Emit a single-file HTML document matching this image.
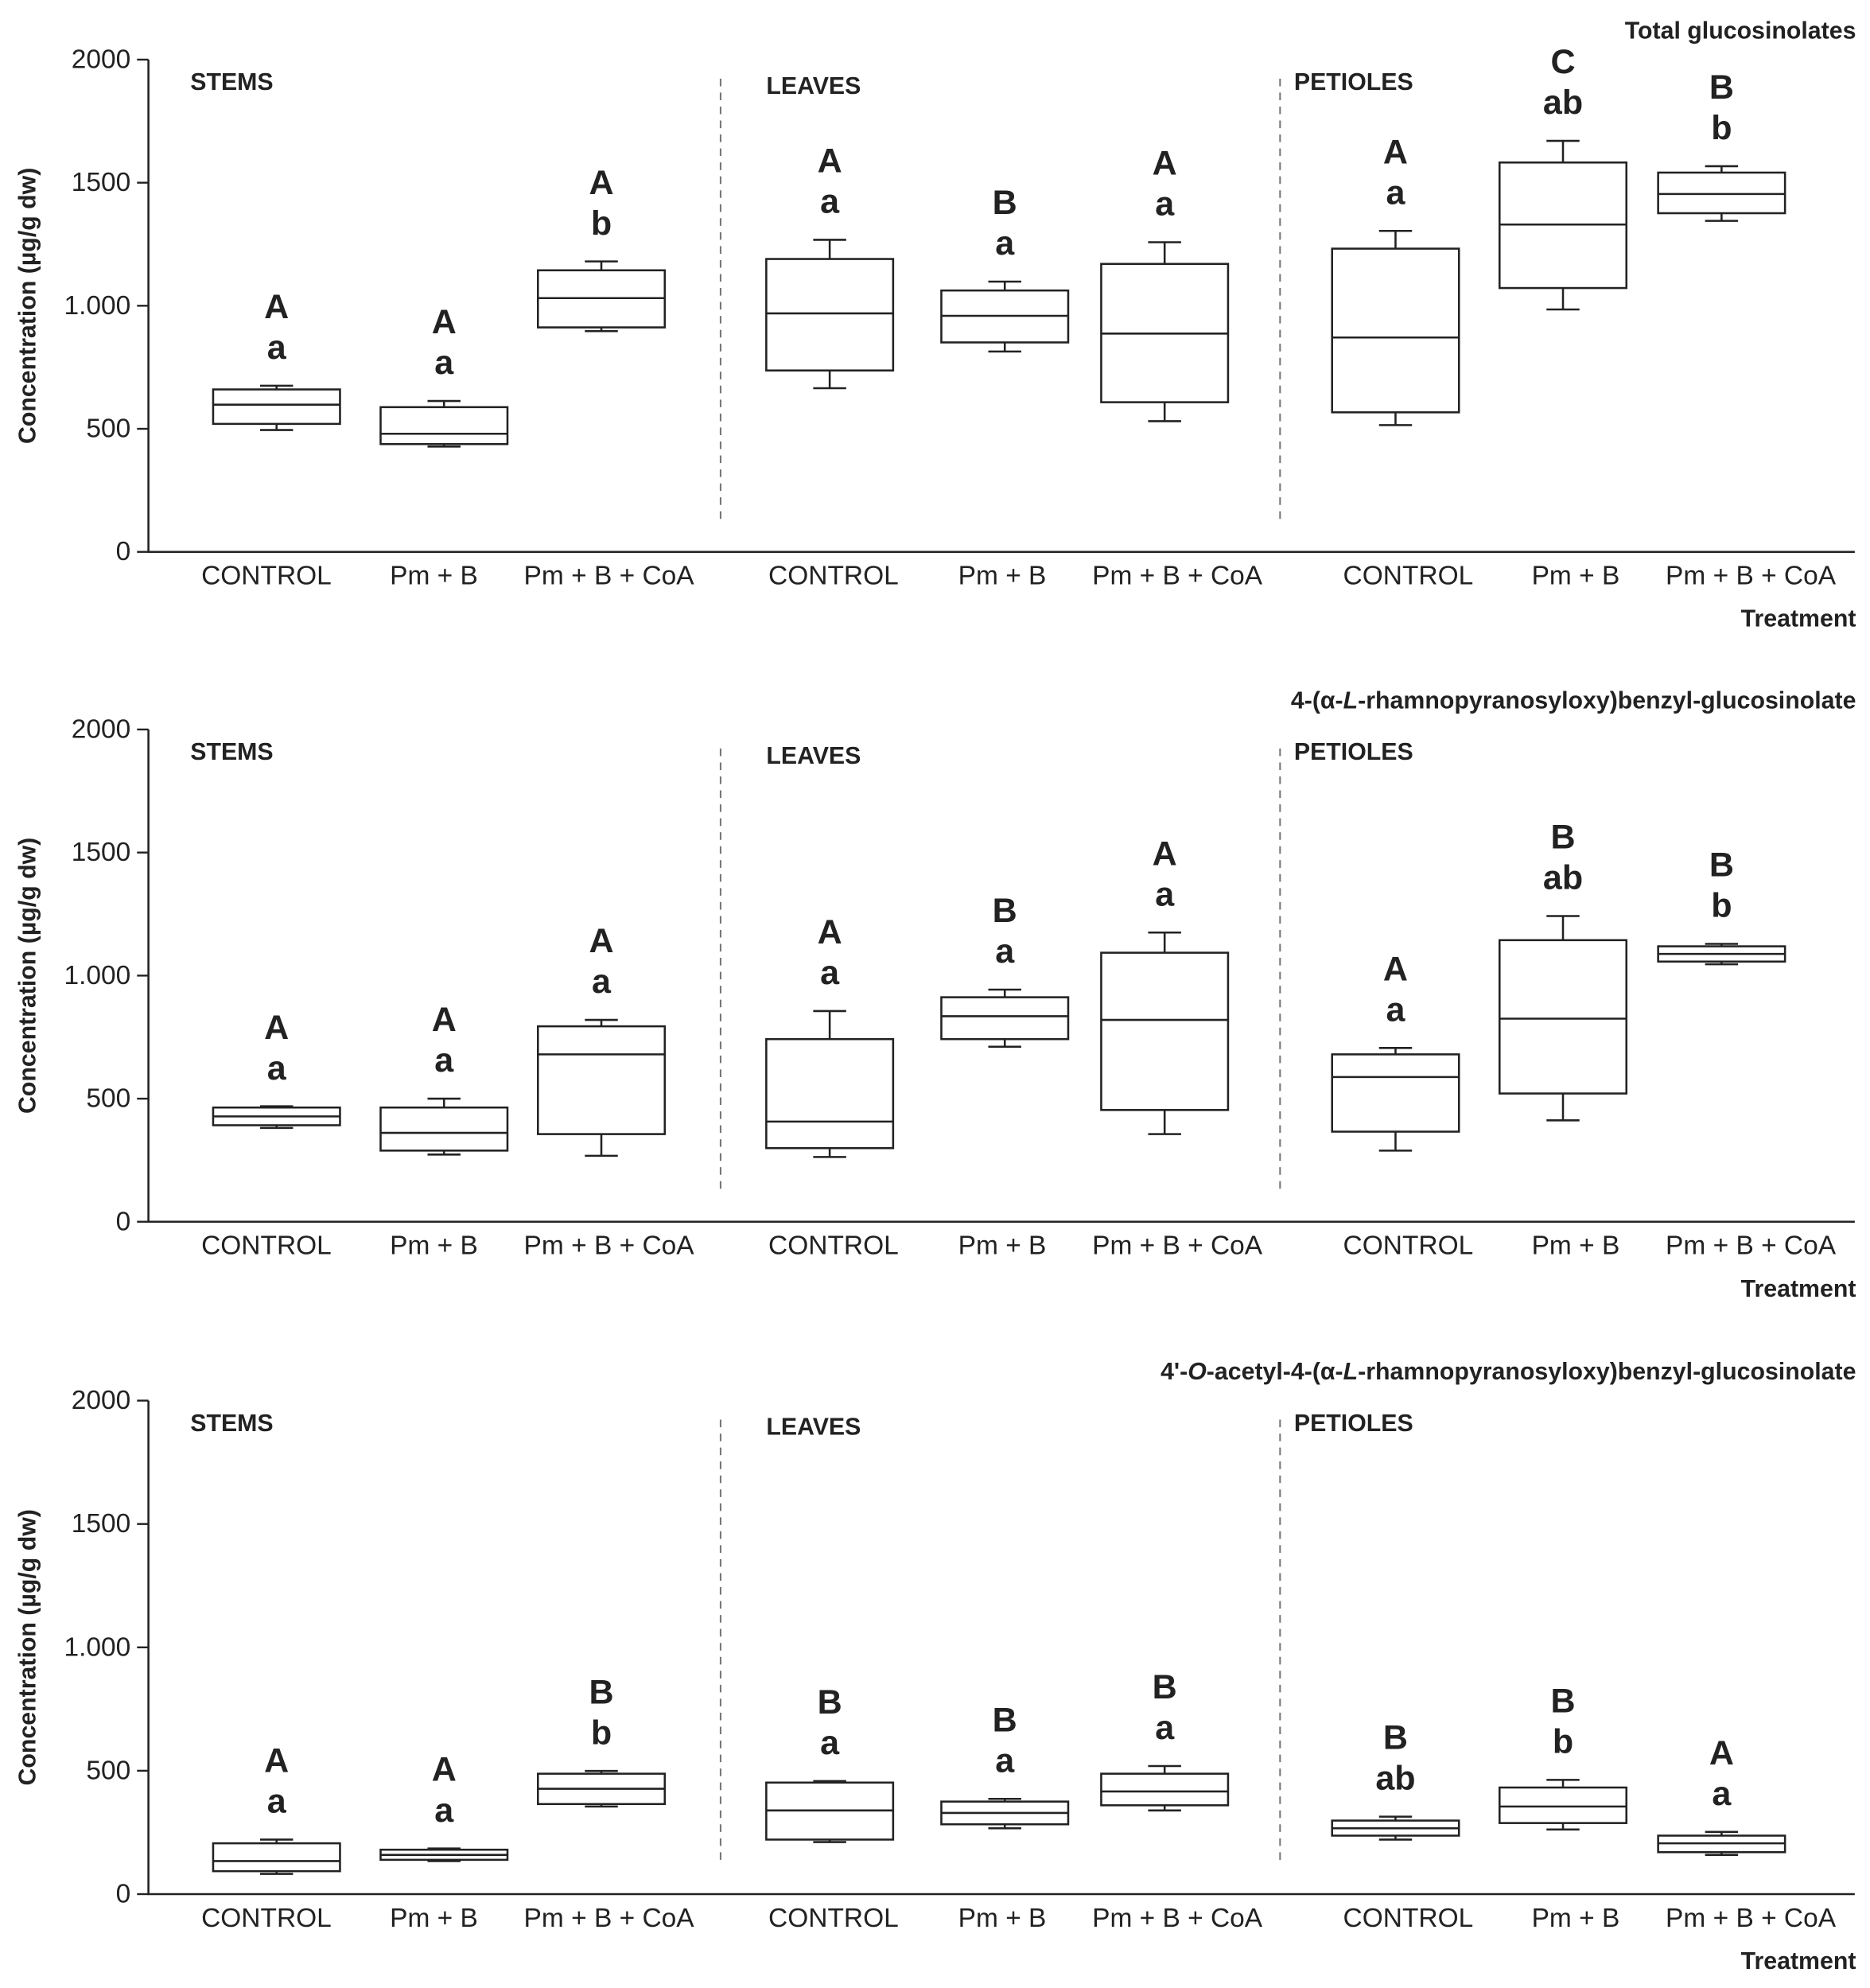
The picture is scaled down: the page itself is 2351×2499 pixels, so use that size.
<!DOCTYPE html>
<html><head><meta charset="utf-8"><style>
html,body{margin:0;padding:0;background:#fff;}
svg{display:block;}
text{font-family:"Liberation Sans",sans-serif;fill:#222;}
</style></head>
<body>
<svg id="chart" width="2351" height="2499" viewBox="0 0 1474 1567" preserveAspectRatio="none" xmlns="http://www.w3.org/2000/svg"></svg>
<script>
// ---- data ----
const categories = ["CONTROL", "Pm + B", "Pm + B + CoA"];
const sections = ["STEMS", "LEAVES", "PETIOLES"];
const yTicks = [0, 500, 1000, 1500, 2000];
const yTickLabels = ["0", "500", "1.000", "1500", "2000"];
// title parts: [text, italic?]
const panelTitles = [
  [["Total glucosinolates", false]],
  [["4-(α-", false], ["L", true], ["-rhamnopyranosyloxy)benzyl-glucosinolate", false]],
  [["4'-", false], ["O", true], ["-acetyl-4-(α-", false], ["L", true], ["-rhamnopyranosyloxy)benzyl-glucosinolate", false]]
];
// each row: [min, q1, median, q3, max]; order stems(ctrl,pmB,coa), leaves(...), petioles(...)
const panel1Stats = [[495,520,598,660,675],[428,438,480,588,613],[897,912,1031,1144,1180],
  [665,737,969,1190,1268],[814,851,959,1062,1098],[531,608,887,1170,1258],
  [515,567,871,1232,1304],[985,1072,1330,1582,1670],[1345,1376,1454,1541,1567]];
const panel2Stats = [[381,392,428,464,469],[273,289,361,464,500],[268,356,680,794,820],
  [263,299,407,742,856],[711,742,835,912,943],[356,454,820,1093,1175],
  [289,366,588,680,706],[412,521,825,1144,1242],[1046,1057,1088,1119,1129]];
const panel3Stats = [[82,93,134,206,221],[134,139,159,180,185],[355,365,427,488,499],
  [211,221,339,452,458],[267,283,329,375,386],[339,360,416,488,519],
  [221,237,267,298,314],[262,288,355,432,463],[159,170,206,237,252]];
const panel1Upper = ["A","A","A","A","B","A","A","C","B"];
const panel1Lower = ["a","a","b","a","a","a","a","ab","b"];
const panel2Upper = ["A","A","A","A","B","A","A","B","B"];
const panel2Lower = ["a","a","a","a","a","a","a","ab","b"];
const panel3Upper = ["A","A","B","B","B","B","B","B","A"];
const panel3Lower = ["a","a","b","a","a","a","ab","b","a"];

// ---- layout ----
const NS = "http://www.w3.org/2000/svg";
const svg = document.getElementById("chart");
const panels = [
  {stats: panel1Stats, up: panel1Upper, lo: panel1Lower, y0: 435, yTop: 47, title: 24, secY: [65,68,65]},
  {stats: panel2Stats, up: panel2Upper, lo: panel2Lower, y0: 963, yTop: 575, title: 552, secY: [593,596,593]},
  {stats: panel3Stats, up: panel3Upper, lo: panel3Lower, y0: 1493, yTop: 1104, title: 1081, secY: [1122,1125,1122]}
];
const boxCenters = [218, 350, 474, 654, 792, 918, 1100, 1232, 1357];
const labelCenters = [210, 342, 480, 657, 790, 928, 1110, 1242, 1380];
const axisX = 117, axisEnd = 1462, boxW = 100, capW = 26;

function mk(tag, attrs, parent) {
  const el = document.createElementNS(NS, tag);
  for (const k in attrs) el.setAttribute(k, attrs[k]);
  (parent || svg).appendChild(el);
  return el;
}
function txt(str, attrs, parent) { const t = mk("text", attrs, parent); t.textContent = str; return t; }

panels.forEach((p, pi) => {
  const g = mk("g", {});
  
  
  const y = v => p.y0 - (v / 2000) * (p.y0 - p.yTop);

  const title = mk("text", {x: 1463, y: p.title, "text-anchor": "end", "dominant-baseline": "central", "font-size": 19, "font-weight": "bold"}, g);
  
  
  panelTitles[pi].forEach(part => {
    const ts = mk("tspan", part[1] ? {"font-style": "italic"} : {}, title);
    ts.textContent = part[0];
  });

  const ax = mk("path", {d: `M${axisX},${p.yTop} V${p.y0} H${axisEnd}`, stroke: "#222", "stroke-width": 1.6, fill: "none"}, g);
  
  

  yTicks.forEach((t, i) => {
    const tk = mk("line", {x1: axisX - 9, x2: axisX, y1: y(t), y2: y(t), stroke: "#222", "stroke-width": 1.5}, g);
    
    
    const tl = txt(yTickLabels[i], {x: axisX - 14, y: y(t), "text-anchor": "end", "dominant-baseline": "central", "font-size": 21}, g);
    
    
  });

  const yt = txt("Concentration (µg/g dw)", {x: 0, y: 0, transform: `translate(22,${(p.y0 + p.yTop) / 2}) rotate(-90)`, "text-anchor": "middle", "dominant-baseline": "central", "font-size": 19, "font-weight": "bold"}, g);
  
  

  const xt = txt("Treatment", {x: 1463, y: p.y0 + 53, "text-anchor": "end", "dominant-baseline": "central", "font-size": 19, "font-weight": "bold"}, g);
  
  

  [568, 1009].forEach(dx => {
    const dl = mk("line", {x1: dx, x2: dx, y1: p.yTop + 15, y2: p.y0 - 23, stroke: "#777", "stroke-width": 1.3, "stroke-dasharray": "6,5"}, g);
    
    
  });
  [150, 604, 1020].forEach((sx, si) => {
    const st = txt(sections[si], {x: sx, y: p.secY[si], "dominant-baseline": "central", "font-size": 19, "font-weight": "bold"}, g);
    
    
  });

  p.stats.forEach((s, i) => {
    const cx = boxCenters[i];
    const bg = mk("g", {stroke: "#222", "stroke-width": 1.6, fill: "none"}, g);
    
    
    mk("line", {x1: cx, x2: cx, y1: y(s[4]), y2: y(s[3])}, bg);
    mk("line", {x1: cx, x2: cx, y1: y(s[1]), y2: y(s[0])}, bg);
    mk("line", {x1: cx - capW / 2, x2: cx + capW / 2, y1: y(s[4]), y2: y(s[4])}, bg);
    mk("line", {x1: cx - capW / 2, x2: cx + capW / 2, y1: y(s[0]), y2: y(s[0])}, bg);
    mk("rect", {x: cx - boxW / 2, y: y(s[3]), width: boxW, height: y(s[1]) - y(s[3])}, bg);
    mk("line", {x1: cx - boxW / 2, x2: cx + boxW / 2, y1: y(s[2]), y2: y(s[2])}, bg);

    const lo = txt(p.lo[i], {x: cx, y: y(s[4]) - 30, "text-anchor": "middle", "dominant-baseline": "central", "font-size": 27, "font-weight": "bold"}, g);
    
    
    const up = txt(p.up[i], {x: cx, y: y(s[4]) - 62, "text-anchor": "middle", "dominant-baseline": "central", "font-size": 27, "font-weight": "bold"}, g);
    
    

    const cl = txt(categories[i % 3], {x: labelCenters[i], y: p.y0 + 19, "text-anchor": "middle", "dominant-baseline": "central", "font-size": 21}, g);
    
    
  });
});
</script>
</body></html>
